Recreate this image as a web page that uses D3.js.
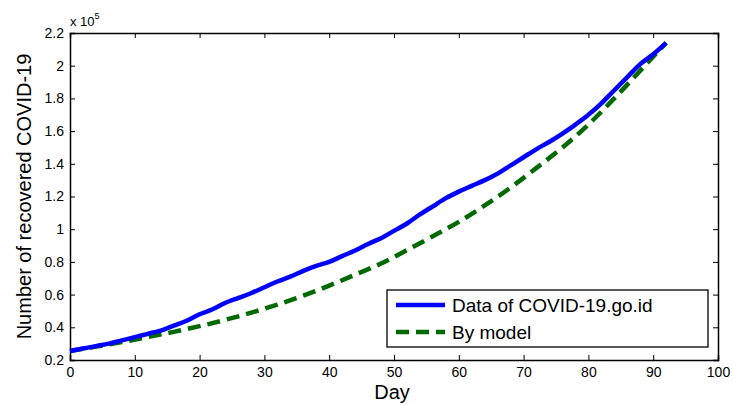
<!DOCTYPE html>
<html>
<head>
<meta charset="utf-8">
<script src="https://cdn.jsdelivr.net/npm/d3@7"></script>
<style>
  html, body { margin: 0; padding: 0; background: #fff; }
  svg text { font-family: "Liberation Sans", Arial, sans-serif; fill: #000; }
</style>
</head>
<body>
<svg id="chart" width="732" height="405"></svg>
<script>
// Recovered cases (in units of 1e5) by day
const dataDays = [0,2,4,6,8,10,12,14,16,18,20,22,24,26,28,30,32,34,36,38,40,42,44,46,
  48,50,52,54,56,58,60,62,64,66,68,70,72,74,76,78,80,82,84,86,88,90,92];
const dataValues = [0.255,0.27,0.285,0.30,0.32,0.34,0.36,0.38,0.41,0.44,0.48,0.51,0.55,0.58,
  0.61,0.645,0.68,0.71,0.745,0.775,0.80,0.835,0.87,0.91,0.945,0.99,1.035,1.09,1.14,1.19,1.23,
  1.265,1.30,1.34,1.39,1.44,1.49,1.535,1.585,1.64,1.70,1.77,1.85,1.93,2.01,2.07,2.14];

const modelDays = [0,4,8,12,16,20,24,28,32,36,40,44,48,52,56,60,64,68,72,76,80,84,88,92];
const modelValues = [0.255,0.282,0.310,0.340,0.372,0.407,0.446,0.49,0.539,0.594,0.655,0.722,
  0.79,0.872,0.957,1.045,1.145,1.255,1.375,1.50,1.64,1.80,1.97,2.14];

const xTicks = [0,10,20,30,40,50,60,70,80,90,100];
const yTicks = [0.2,0.4,0.6,0.8,1,1.2,1.4,1.6,1.8,2,2.2];
const legendLabels = ["Data of COVID-19.go.id", "By model"];

const svg = d3.select("#chart");
const plotLeft = 70, plotRight = 718, plotTop = 33, plotBottom = 360;

const x = d3.scaleLinear().domain([0, 100]).range([plotLeft, plotRight]);
const y = d3.scaleLinear().domain([0.2, 2.2]).range([plotBottom, plotTop]);

const tickLen = 5;
const axisColor = "#000";

// Axes with inward ticks on all four sides
const gx = svg.append("g").attr("transform", `translate(0,${plotBottom})`)
  .call(d3.axisBottom(x).tickValues(xTicks).tickSize(-tickLen).tickPadding(7)
        .tickFormat(d3.format("d")));
const gxTop = svg.append("g").attr("transform", `translate(0,${plotTop})`)
  .call(d3.axisTop(x).tickValues(xTicks).tickSize(-tickLen).tickFormat(""));
const gy = svg.append("g").attr("transform", `translate(${plotLeft},0)`)
  .call(d3.axisLeft(y).tickValues(yTicks).tickSize(-tickLen).tickPadding(6)
        .tickFormat(d => d3.format("~g")(+d.toFixed(1))));
const gyRight = svg.append("g").attr("transform", `translate(${plotRight},0)`)
  .call(d3.axisRight(y).tickValues(yTicks).tickSize(-tickLen).tickFormat(""));

[gx, gxTop, gy, gyRight].forEach(g => {
  g.select(".domain").attr("stroke", axisColor).attr("stroke-width", 1.5);
  g.selectAll(".tick line").attr("stroke", axisColor).attr("stroke-width", 1);
  g.selectAll(".tick text").attr("font-size", 14)
    .attr("font-family", "'Liberation Sans', Arial, sans-serif").attr("fill", "#000");
});

// Exponent label
const expo = svg.append("text").attr("x", plotLeft).attr("y", 26).attr("font-size", 13);
expo.append("tspan").text("x 10");
expo.append("tspan").attr("dy", -7).attr("font-size", 9).text("5");

// Axis titles
svg.append("text").attr("x", (plotLeft + plotRight) / 2 - 2).attr("y", 399)
  .attr("text-anchor", "middle").attr("font-size", 20).text("Day");
svg.append("text")
  .attr("transform", `translate(31,${(plotTop + plotBottom) / 2}) rotate(-90)`)
  .attr("text-anchor", "middle").attr("font-size", 20)
  .text("Number of recovered COVID-19");

const blue = "#0000ff", green = "#006a00";

const line = d3.line().x(d => x(d[0])).y(d => y(d[1])).curve(d3.curveMonotoneX);

svg.append("path")
  .datum(modelDays.map((d, i) => [d, modelValues[i]]))
  .attr("fill", "none").attr("stroke", green).attr("stroke-width", 4.5)
  .attr("stroke-dasharray", "13,7").attr("d", line);

svg.append("path")
  .datum(dataDays.map((d, i) => [d, dataValues[i]]))
  .attr("fill", "none").attr("stroke", blue).attr("stroke-width", 4.5)
  .attr("stroke-linejoin", "round").attr("d", line);

// Legend
const lg = svg.append("g");
lg.append("rect").attr("x", 387).attr("y", 290).attr("width", 321).attr("height", 57)
  .attr("fill", "#fff").attr("stroke", "#000").attr("stroke-width", 1.3);
const styles = [
  { color: blue, dash: null },
  { color: green, dash: "13,7" }
];
legendLabels.forEach((label, i) => {
  const yy = 305 + i * 27;
  lg.append("line").attr("x1", 396).attr("x2", 445).attr("y1", yy).attr("y2", yy)
    .attr("stroke", styles[i].color).attr("stroke-width", 4.5)
    .attr("stroke-dasharray", styles[i].dash);
  lg.append("text").attr("x", 452).attr("y", yy + 7).attr("font-size", 19).text(label);
});
</script>
</body>
</html>
